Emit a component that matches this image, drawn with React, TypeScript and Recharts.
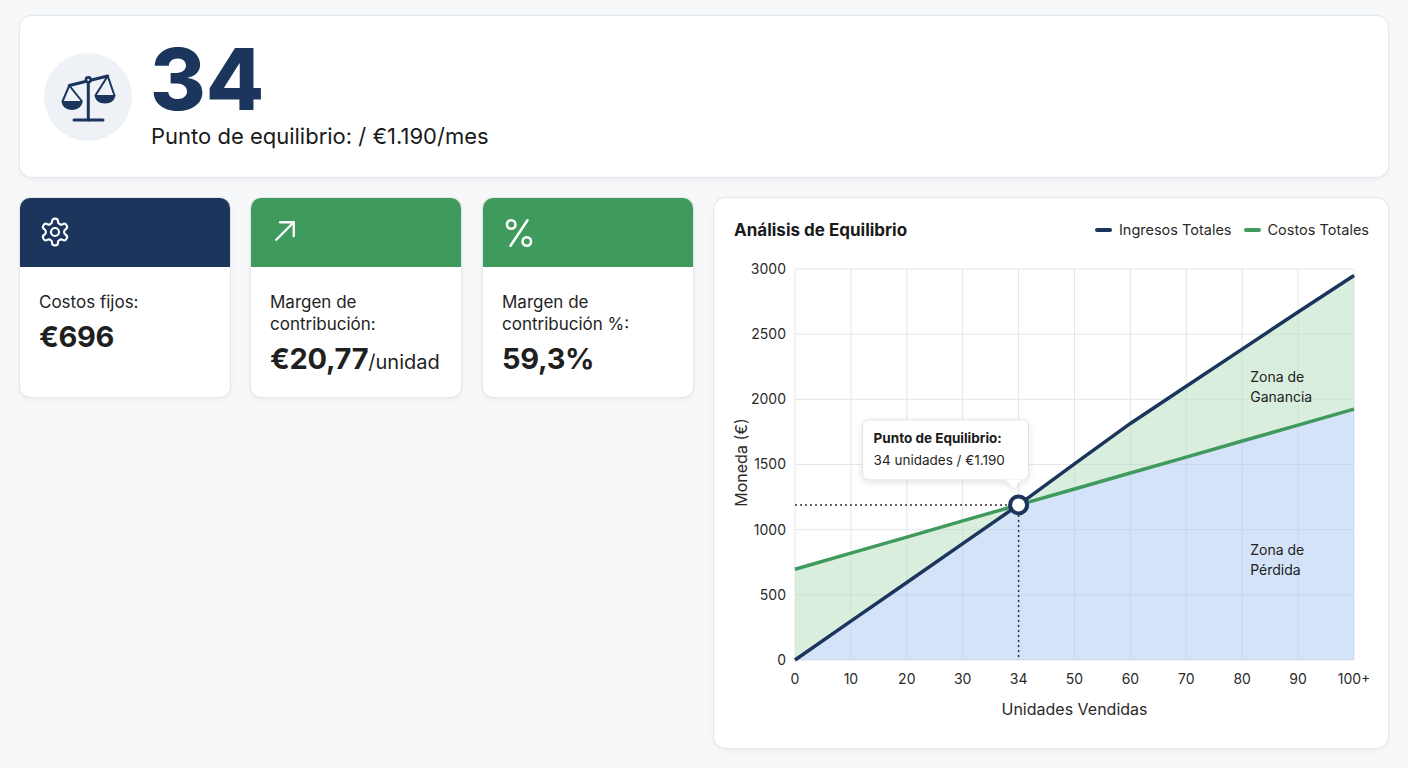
import React from "react";
import {
  ComposedChart,
  Area,
  Line,
  XAxis,
  YAxis,
  CartesianGrid,
  ReferenceLine,
  ReferenceDot,
  Label,
} from "recharts";

const units = ["0", "10", "20", "30", "34", "50", "60", "70", "80", "90", "100+"];
const revenue = [0, 298, 595, 893, 1190, 1505, 1815, 2100, 2385, 2670, 2950];
const costs = [696, 820, 943, 1067, 1190, 1312, 1435, 1557, 1680, 1802, 1925];
const yTicks = [0, 500, 1000, 1500, 2000, 2500, 3000];

const breakEvenUnits = "34";
const breakEvenValue = 1190;

const seriesNames = ["Ingresos Totales", "Costos Totales"];

const NAVY = "#1b355d";
const GREEN = "#3f9a5d";
const FONT = "Inter, 'Noto Sans', sans-serif";

const data = units.map((u, i) => ({
  units: u,
  revenue: revenue[i],
  costs: costs[i],
  low: Math.min(revenue[i], costs[i]),
  gap: Math.abs(revenue[i] - costs[i]),
}));

function Callout(props: any) {
  const vb = props.viewBox;
  if (!vb) return null;
  const cx = vb.x + vb.width / 2;
  const cy = vb.y + vb.height / 2;
  const bx = cx - 156;
  const by = cy - 85;
  return (
    <g>
      <defs>
        <filter id="calloutShadow" x="-20%" y="-30%" width="140%" height="170%">
          <feDropShadow dx="0" dy="2" stdDeviation="3" floodColor="#000" floodOpacity="0.12" />
        </filter>
      </defs>
      <g filter="url(#calloutShadow)">
        <rect x={bx} y={by} width={166} height={60} rx={6} fill="#fff" stroke="#dfe2e6" />
        <path d={`M${cx - 13} ${cy - 25.5} L${cx - 5} ${cy - 17} L${cx + 3} ${cy - 25.5} Z`} fill="#fff" />
      </g>
      <text x={bx + 11} y={by + 18} dominantBaseline="central" fontSize={13.5} fontWeight={700} fill="#1a1a1a" fontFamily={FONT}>
        Punto de Equilibrio:
      </text>
      <text x={bx + 11} y={by + 40} dominantBaseline="central" fontSize={13.5} fill="#1f1f1f" fontFamily={FONT}>
        {`${breakEvenUnits} unidades / €1.190`}
      </text>
    </g>
  );
}

function zoneLabel(lines: string[]) {
  return (props: any) => {
    const vb = props.viewBox;
    if (!vb) return null;
    const cx = vb.x + vb.width / 2;
    const cy = vb.y + vb.height / 2;
    return (
      <g>
        {lines.map((t, i) => (
          <text
            key={t}
            x={cx + 8}
            y={cy + (i - (lines.length - 1) / 2) * 19.5}
            dominantBaseline="central"
            fontSize={14}
            fill="#222"
            fontFamily={FONT}
          >
            {t}
          </text>
        ))}
      </g>
    );
  };
}

function ScalesIcon() {
  return (
    <svg width={88} height={88} viewBox="0 0 88 88">
      <g stroke={NAVY} strokeWidth={2.6} strokeLinecap="round" strokeLinejoin="round" fill="none">
        <line x1={44.3} y1={29} x2={44.3} y2={67} strokeWidth={3} />
        <line x1={30} y1={67} x2={59} y2={67} strokeWidth={3} />
        <line x1={25.3} y1={32.5} x2={63.7} y2={23} strokeWidth={3} />
        <circle cx={44.3} cy={26.8} r={2.4} fill="#eef1f6" />
        <polyline points="18.7,48 25.3,32.5 37.7,48" strokeWidth={2} />
        <polyline points="51.7,42 63.7,23 70.3,42" strokeWidth={2} />
      </g>
      <path d="M17.5 48 L38.6 48 C38.2 53.5 34 57 28 57 C22 57 17.9 53.5 17.5 48 Z" fill={NAVY} />
      <path d="M50.5 42 L71.5 42 C71 47 67 50.5 61 50.5 C55 50.5 51 47 50.5 42 Z" fill={NAVY} />
    </svg>
  );
}

function GearIcon() {
  return (
    <svg width={32} height={32} viewBox="0 0 24 24" fill="none" stroke="#fff" strokeWidth={1.6} strokeLinecap="round" strokeLinejoin="round">
      <path d="M12.22 2h-.44a2 2 0 0 0-2 2v.18a2 2 0 0 1-1 1.730l-.43.25a2 2 0 0 1-2 0l-.15-.08a2 2 0 0 0-2.73.73l-.22.38a2 2 0 0 0 .73 2.73l.15.1a2 2 0 0 1 1 1.72v.51a2 2 0 0 1-1 1.74l-.15.09a2 2 0 0 0-.73 2.73l.22.38a2 2 0 0 0 2.73.73l.15-.08a2 2 0 0 1 2 0l.43.25a2 2 0 0 1 1 1.73V20a2 2 0 0 0 2 2h.44a2 2 0 0 0 2-2v-.18a2 2 0 0 1 1-1.73l.43-.25a2 2 0 0 1 2 0l.15.08a2 2 0 0 0 2.73-.73l.22-.39a2 2 0 0 0-.73-2.73l-.15-.08a2 2 0 0 1-1-1.74v-.5a2 2 0 0 1 1-1.74l.15-.09a2 2 0 0 0 .73-2.73l-.22-.38a2 2 0 0 0-2.73-.73l-.15.08a2 2 0 0 1-2 0l-.43-.25a2 2 0 0 1-1-1.73V4a2 2 0 0 0-2-2z" />
      <circle cx={12} cy={12} r={3} />
    </svg>
  );
}

function ArrowIcon() {
  return (
    <svg width={30} height={30} viewBox="0 0 24 24" fill="none" stroke="#fff" strokeWidth={1.9} strokeLinecap="round" strokeLinejoin="round">
      <path d="M5 19 19 5" />
      <path d="M8 5h11v11" />
    </svg>
  );
}

function PercentIcon() {
  return (
    <svg width={34} height={34} viewBox="0 0 24 24" fill="none" stroke="#fff" strokeWidth={1.8} strokeLinecap="round" strokeLinejoin="round">
      <line x1={18} y1={3} x2={6} y2={21} />
      <circle cx={6.5} cy={6} r={3} />
      <circle cx={17.5} cy={18} r={3} />
    </svg>
  );
}

const cardShadow = "0 0 0 1px #e4e7eb, 0 2px 6px rgba(15, 23, 42, 0.06)";

function KpiCard(props: { left: number; band: string; icon: React.ReactNode; label: string[]; value: string; unit?: string }) {
  const { left, band, icon, label, value, unit } = props;
  return (
    <div
      style={{
        position: "absolute",
        left,
        top: 198,
        width: 210,
        height: 199,
        background: "#fff",
        borderRadius: 10,
        boxShadow: cardShadow,
        overflow: "hidden",
      }}
    >
      <div style={{ height: 69, background: band, position: "relative" }}>
        <div style={{ position: "absolute", left: 19, top: 18 }}>{icon}</div>
      </div>
      <div style={{ position: "absolute", left: 19, top: 93, color: "#1f1f1f" }}>
        {label.map((l) => (
          <div key={l} style={{ fontSize: 17, lineHeight: "22px" }}>
            {l}
          </div>
        ))}
        <div style={{ marginTop: 6, fontSize: 29, fontWeight: 650, lineHeight: "36px", letterSpacing: -0.3 }}>
          {value}
          {unit ? <span style={{ fontSize: 20, fontWeight: 400, letterSpacing: 0 }}>{unit}</span> : null}
        </div>
      </div>
    </div>
  );
}

export default function App() {
  return (
    <div
      style={{
        position: "absolute",
        left: 0,
        top: 0,
        width: 1408,
        height: 768,
        background: "#f7f8fa",
        fontFamily: FONT,
        overflow: "hidden",
      }}
    >
      {/* header */}
      <div
        style={{
          position: "absolute",
          left: 20,
          top: 16,
          width: 1368,
          height: 161,
          background: "#fff",
          borderRadius: 12,
          boxShadow: cardShadow,
        }}
      >
        <div
          style={{
            position: "absolute",
            left: 24,
            top: 37,
            width: 88,
            height: 88,
            borderRadius: "50%",
            background: "#eef1f6",
          }}
        >
          <ScalesIcon />
        </div>
        <div
          style={{
            position: "absolute",
            left: 130,
            top: 32,
            fontSize: 85,
            fontWeight: 800,
            color: NAVY,
            lineHeight: "64px",
            letterSpacing: 0,
          }}
        >
          {breakEvenUnits}
        </div>
        <div style={{ position: "absolute", left: 131, top: 106, fontSize: 22, color: "#1a1a1a", lineHeight: "28px" }}>
          Punto de equilibrio: / €1.190/mes
        </div>
      </div>

      <KpiCard left={20} band={NAVY} icon={<GearIcon />} label={["Costos fijos:"]} value="€696" />
      <KpiCard
        left={251}
        band={GREEN}
        icon={<ArrowIcon />}
        label={["Margen de", "contribución:"]}
        value="€20,77"
        unit="/unidad"
      />
      <KpiCard left={483} band={GREEN} icon={<PercentIcon />} label={["Margen de", "contribución %:"]} value="59,3%" />

      {/* chart card */}
      <div
        style={{
          position: "absolute",
          left: 714,
          top: 198,
          width: 674,
          height: 550,
          background: "#fff",
          borderRadius: 12,
          boxShadow: cardShadow,
        }}
      >
        <div
          style={{
            position: "absolute",
            left: 20,
            top: 20,
            fontSize: 17,
            fontWeight: 700,
            color: "#1a1a1a",
            lineHeight: "24px",
          }}
        >
          Análisis de Equilibrio
        </div>
        <div
          style={{
            position: "absolute",
            right: 19,
            top: 23,
            display: "flex",
            alignItems: "center",
            fontSize: 14.5,
            color: "#2a2a2a",
            lineHeight: "18px",
          }}
        >
          {seriesNames.map((n, i) => (
            <div key={n} style={{ display: "flex", alignItems: "center", marginLeft: i ? 12 : 0 }}>
              <span
                style={{
                  display: "inline-block",
                  width: 17,
                  height: 4,
                  borderRadius: 2,
                  background: i === 0 ? NAVY : GREEN,
                  marginRight: 7,
                }}
              />
              {n}
            </div>
          ))}
        </div>

        <div style={{ position: "absolute", left: 0, top: 0 }}>
          <ComposedChart width={674} height={550} data={data} margin={{ top: 71, right: 34, left: 0, bottom: 0 }}>
            <CartesianGrid stroke="#e3e6ea" strokeWidth={1} />
            <XAxis
              dataKey="units"
              type="category"
              scale="point"
              padding={{ left: 0, right: 0 }}
              height={88}
              axisLine={false}
              tickLine={false}
              tickSize={0}
              tickMargin={14}
              interval={0}
              tick={{ fill: "#2a2a2a", fontSize: 14, fontFamily: FONT }}
            >
              <Label
                content={(p: any) => {
                  const vb = p.viewBox;
                  if (!vb) return null;
                  return (
                    <text
                      x={vb.x + vb.width / 2}
                      y={vb.y + 49}
                      textAnchor="middle"
                      dominantBaseline="central"
                      fontSize={16}
                      fill="#2a2a2a"
                      fontFamily={FONT}
                    >
                      Unidades Vendidas
                    </text>
                  );
                }}
              />
            </XAxis>
            <YAxis
              width={81}
              domain={[0, 3000]}
              ticks={yTicks}
              axisLine={false}
              tickLine={false}
              tickSize={0}
              tickMargin={9}
              tick={{ fill: "#2a2a2a", fontSize: 14, fontFamily: FONT }}
            >
              <Label
                content={(p: any) => {
                  const vb = p.viewBox;
                  if (!vb) return null;
                  const y = vb.y + vb.height / 2 - 2;
                  return (
                    <text
                      x={27}
                      y={y}
                      transform={`rotate(-90 27 ${y})`}
                      textAnchor="middle"
                      dominantBaseline="central"
                      fontSize={16}
                      fill="#2a2a2a"
                      fontFamily={FONT}
                    >
                      Moneda (€)
                    </text>
                  );
                }}
              />
            </YAxis>
            <Area
              type="linear"
              dataKey="low"
              stackId="zone"
              stroke="none"
              fill="#a9c8f0"
              fillOpacity={0.5}
              isAnimationActive={false}
            />
            <Area
              type="linear"
              dataKey="gap"
              stackId="zone"
              stroke="none"
              fill="#b5ddbd"
              fillOpacity={0.5}
              isAnimationActive={false}
            />
            <ReferenceLine
              segment={[
                { x: "0", y: breakEvenValue },
                { x: breakEvenUnits, y: breakEvenValue },
              ]}
              stroke="#333"
              strokeWidth={1.5}
              strokeDasharray="2 3"
            />
            <ReferenceLine
              segment={[
                { x: breakEvenUnits, y: breakEvenValue },
                { x: breakEvenUnits, y: 0 },
              ]}
              stroke="#333"
              strokeWidth={1.5}
              strokeDasharray="2 3"
            />
            <Line
              type="linear"
              dataKey="costs"
              name={seriesNames[1]}
              stroke={GREEN}
              strokeWidth={3.5}
              dot={false}
              activeDot={false}
              isAnimationActive={false}
            />
            <Line
              type="linear"
              dataKey="revenue"
              name={seriesNames[0]}
              stroke={NAVY}
              strokeWidth={3.5}
              dot={false}
              activeDot={false}
              isAnimationActive={false}
            />
            <ReferenceDot x="80" y={2100} r={0} fill="none" stroke="none" label={zoneLabel(["Zona de", "Ganancia"])} />
            <ReferenceDot x="80" y={770} r={0} fill="none" stroke="none" label={zoneLabel(["Zona de", "Pérdida"])} />
            <ReferenceDot
              x={breakEvenUnits}
              y={breakEvenValue}
              r={8.5}
              fill="#fff"
              stroke={NAVY}
              strokeWidth={4}
              label={(p: any) => <Callout {...p} />}
            />
          </ComposedChart>
        </div>
      </div>
    </div>
  );
}
